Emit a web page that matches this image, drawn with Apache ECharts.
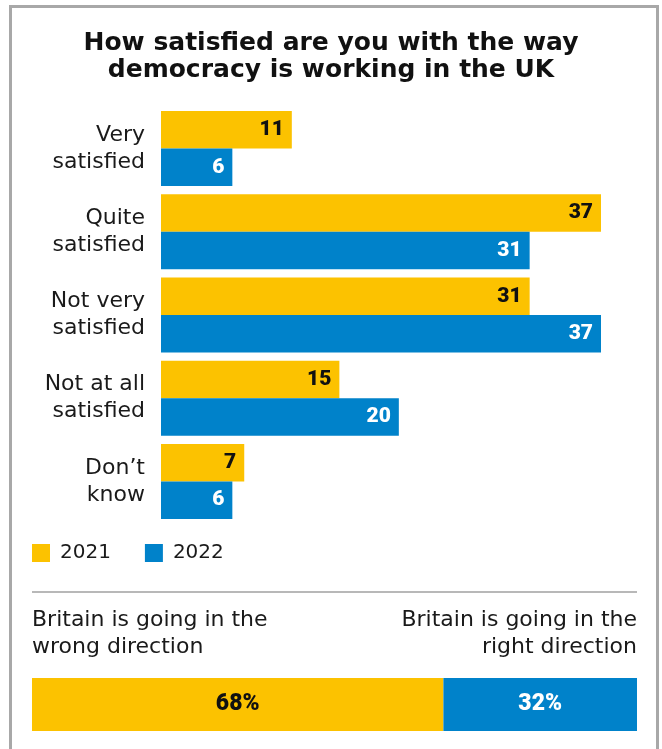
<!DOCTYPE html>
<html>
<head>
<meta charset="utf-8">
<script src="https://cdn.jsdelivr.net/npm/echarts@6/dist/echarts.min.js"></script>
<style>html,body{margin:0;padding:0;background:#fff}#c{width:662px;height:749px}</style>
</head>
<body>
<div id="c"></div>
<script>
const categories = ['Very\nsatisfied', 'Quite\nsatisfied', 'Not very\nsatisfied', 'Not at all\nsatisfied', "Don\u2019t\nknow"];
const values2021 = [11, 37, 31, 15, 7];
const values2022 = [6, 31, 37, 20, 6];
const seriesNames = ['2021', '2022'];
const directionLabels = ['Britain is going in the\nwrong direction', 'Britain is going in the\nright direction'];
const wrongDirection = [68];
const rightDirection = [32];

const YELLOW = '#FCC200';
const BLUE = '#0082CA';
const TEXT = '#1a1a1a';
const FONT = 'DejaVu Sans';
const NUMFONT = 'Roboto';

const chart = echarts.init(document.getElementById('c'), null, {renderer: 'canvas'});
chart.setOption({
  animation: false,
  backgroundColor: '#fff',
  title: [
    {
      text: 'How satisfied are you with the way\ndemocracy is working in the UK',
      left: 'center', top: 25,
      textStyle: {fontFamily: 'DejaVu Sans', fontWeight: 'bold', fontSize: 25, lineHeight: 27, color: '#111'}
    }
  ],
  legend: {
    data: seriesNames,
    left: 27, top: 538,
    itemWidth: 18, itemHeight: 18, itemGap: 34,
    icon: 'rect',
    textStyle: {fontFamily: FONT, fontSize: 20, color: TEXT, padding: [0, 0, 0, 5]}
  },
  graphic: [
    {type: 'rect', shape: {x: 10.5, y: 6.5, width: 647, height: 760}, style: {fill: 'none', stroke: '#a8a8a8', lineWidth: 3}, silent: true},
    {type: 'line', shape: {x1: 32, y1: 592, x2: 637, y2: 592}, style: {stroke: '#b8b8b8', lineWidth: 2}, silent: true},
    {type: 'text', x: 32, y: 607, style: {text: directionLabels[0], font: '22px "DejaVu Sans"', lineHeight: 27, fill: TEXT, align: 'left', verticalAlign: 'top'}},
    {type: 'text', x: 637, y: 607, style: {text: directionLabels[1], font: '22px "DejaVu Sans"', lineHeight: 27, fill: TEXT, align: 'right', verticalAlign: 'top'}}
  ],
  grid: [
    {left: 161, right: 61, top: 107, height: 416},
    {left: 32, right: 25, top: 678, height: 53}
  ],
  xAxis: [
    {gridIndex: 0, type: 'value', min: 0, max: 37, show: false},
    {gridIndex: 1, type: 'value', min: 0, max: 100, show: false}
  ],
  yAxis: [
    {
      gridIndex: 0, type: 'category', data: categories, inverse: true,
      axisLine: {show: false}, axisTick: {show: false},
      axisLabel: {fontFamily: FONT, fontSize: 22, lineHeight: 27, color: TEXT, margin: 16, align: 'right', padding: [4, 0, 0, 0]}
    },
    {gridIndex: 1, type: 'category', data: ['direction'], show: false}
  ],
  series: [
    {
      name: seriesNames[0], type: 'bar', xAxisIndex: 0, yAxisIndex: 0,
      data: values2021, barWidth: 37.5, barGap: '0%',
      itemStyle: {color: YELLOW},
      label: {show: true, position: 'insideRight', distance: 8, color: '#111', fontFamily: NUMFONT, fontWeight: 900, fontSize: 21}
    },
    {
      name: seriesNames[1], type: 'bar', xAxisIndex: 0, yAxisIndex: 0,
      data: values2022, barWidth: 37.5, barGap: '0%',
      itemStyle: {color: BLUE},
      label: {show: true, position: 'insideRight', distance: 8, color: '#fff', fontFamily: NUMFONT, fontWeight: 900, fontSize: 21}
    },
    {
      name: 'wrong', type: 'bar', stack: 'dir', xAxisIndex: 1, yAxisIndex: 1,
      data: wrongDirection, barWidth: 53,
      itemStyle: {color: YELLOW},
      label: {show: true, position: 'inside', formatter: '{c}%', color: '#111', fontFamily: NUMFONT, fontWeight: 900, fontSize: 23}
    },
    {
      name: 'right', type: 'bar', stack: 'dir', xAxisIndex: 1, yAxisIndex: 1,
      data: rightDirection, barWidth: 53,
      itemStyle: {color: BLUE},
      label: {show: true, position: 'inside', formatter: '{c}%', color: '#fff', fontFamily: NUMFONT, fontWeight: 900, fontSize: 23}
    }
  ]
});
</script>
</body>
</html>
